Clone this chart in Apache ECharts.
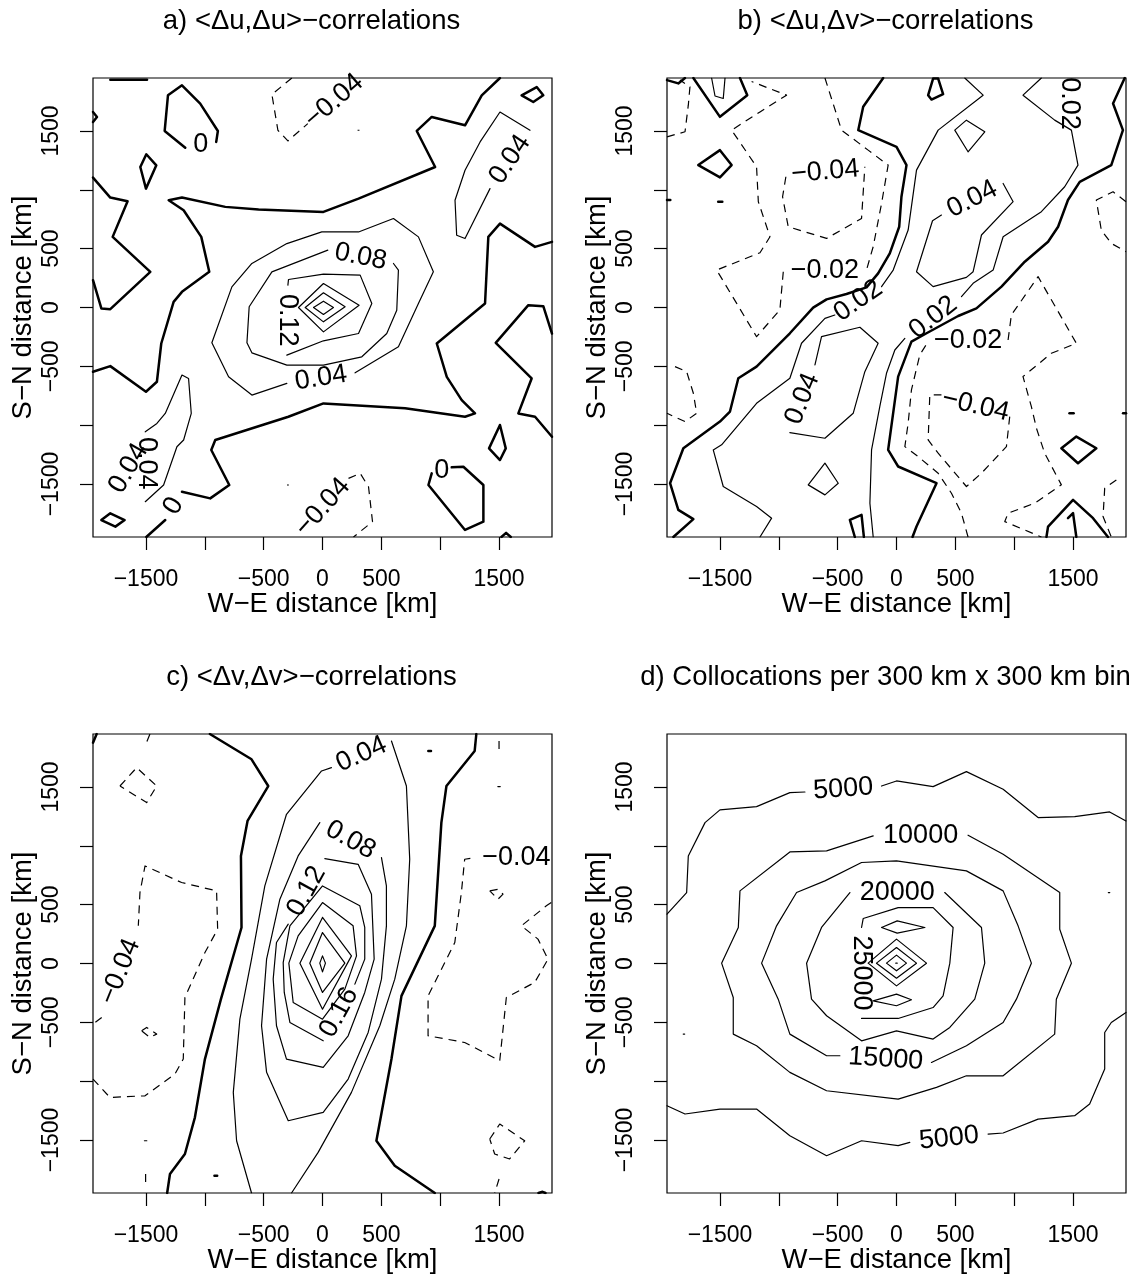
<!DOCTYPE html>
<html><head><meta charset="utf-8">
<script src="https://cdn.jsdelivr.net/npm/echarts@6/dist/echarts.min.js"></script>
<style>html,body{margin:0;padding:0;background:#fff}#c{width:1137px;height:1279px}</style>
</head><body><div id="c"></div>
<script>
const FONT = '"Liberation Sans", Arial, Helvetica, sans-serif';
const axisMin = -1950, axisMax = 1950;
const tickValues = [-1500, -1000, -500, 0, 500, 1000, 1500];
const tickLabelValues = [-1500, -500, 0, 500, 1500];
const panelTitles = ['a) <\u0394u,\u0394u>\u2212correlations', 'b) <\u0394u,\u0394v>\u2212correlations',
                     'c) <\u0394v,\u0394v>\u2212correlations', 'd) Collocations per 300 km x 300 km bin'];
const xTitle = 'W\u2212E distance [km]';
const yTitle = 'S\u2212N distance [km]';

// contours: [level, path of [W-E km, S-N km]]
const contoursA = [
 [0, [[-1166,1358],[-1341,1500],[-1313,1803],[-1194,1888],[-1039,1732],[-889,1500],[-903,1407]]],
 [0, [[-1548,1194],[-1497,1302],[-1412,1208],[-1500,1010],[-1548,1194]]],
 [0, [[-1803,1935],[-1491,1935]]],
 [0, [[-1950,1104],[-1803,934],[-1656,903],[-1783,600],[-1463,303],[-1803,-14],[-1879,-8],[-1950,232]]],
 [0, [[-1950,-546],[-1803,-498],[-1500,-716],[-1407,-631],[-1370,-306],[-1265,48],[-1194,133],[-962,303],[-1030,600],[-1180,826],[-1307,911],[-1194,934],[-826,855],[-543,832],[8,812],[306,925],[957,1194],[801,1500],[928,1619],[1211,1548],[1353,1803],[1508,1950]]],
 [0, [[-1497,-1950],[-1336,-1806]]],
 [0, [[-1194,-1565],[-954,-1622],[-792,-1508],[-945,-1211],[-911,-1126],[-290,-928],[8,-815],[702,-857],[1211,-928],[1296,-900],[1183,-787],[1056,-589],[971,-306],[1381,34],[1409,600],[1508,713],[1636,628],[1806,515],[1950,558]]],
 [0, [[1950,-221],[1876,11],[1749,20],[1472,-300],[1777,-603],[1664,-900],[1806,-928],[1950,-1098]]],
 [0, [[1692,1803],[1820,1873],[1876,1803],[1791,1746],[1692,1803]]],
 [0, [[1508,-999],[1557,-1197],[1508,-1296],[1415,-1197],[1508,-999]]],
 [0, [[1098,-1358],[1197,-1353],[1367,-1508],[1367,-1820],[1211,-1890],[900,-1508],[928,-1409]]],
 [0, [[-1879,-1806],[-1803,-1749],[-1681,-1806],[-1760,-1862],[-1879,-1806]]],
 [0, [[-1950,1661],[-1916,1619],[-1950,1576]]],
 [0, [[1520,-1950],[1560,-1915],[1600,-1950]]],
 [0.04, [[277,-555],[645,-334],[815,34],[942,303],[815,600],[603,756],[306,642],[-6,642],[-303,543],[-600,374],[-770,175],[-940,-300],[-798,-589],[-600,-744],[-303,-645]]],
 [0.08, [[45,487],[-430,303],[-623,6],[-642,-300],[-600,-385],[-303,-490],[8,-490],[334,-419],[546,-221],[631,-23],[645,317],[603,374]]],
 [0.12, [[-294,190],[-289,238],[8,283],[320,275],[419,34],[306,-221],[8,-283],[-303,-405]]],
 [0.16, [[-204,0],[8,204],[311,20],[8,-207],[-204,0]]],
 [0.20, [[-147,0],[8,125],[192,6],[8,-122],[-147,0]]],
 [0.24, [[-76,0],[8,54],[93,0],[8,-59],[-76,0]]],
 [0.04, [[1423,1010],[1211,586],[1140,614],[1126,911],[1211,1166],[1339,1407],[1508,1661],[1763,1506]]],
 [0.04, [[-1506,-1650],[-1350,-1508],[-1237,-1183],[-1180,-1126],[-1115,-900],[-1138,-603],[-1194,-574],[-1336,-900],[-1407,-985],[-1506,-1056]]],
 [-0.04, [[-260,1950],[-430,1811],[-379,1506],[-294,1415],[-125,1562]]],
 [-0.04, [[221,-1452],[320,-1409],[391,-1523],[425,-1820],[263,-1950]]],
 [-0.04, [[298,1506],[314,1506]]],
 [-0.04, [[-302,-1508],[-286,-1508]]]
];
const labelsA = [[-1035,1383,'0'],[-1265,-1686,'0'],[1013,-1384,'0'],[-13,-600,'0.04'],[324,431,'0.08'],
  [-299,-108,'0.12'],[1593,1258,'0.04'],[-1648,-1366,'0.04'],[-1493,-1323,'0.04'],[98,1754,'\u22120.04'],[2,-1697,'\u22120.04']];
const labelRotA = [0, 60, 0, 9, -11, -90, 56, 60, -90, 41, 48];

const contoursB = [
 [0, [[-1896,-1950],[-1726,-1798],[-1854,-1719],[-1924,-1493],[-1811,-1196],[-1500,-969],[-1415,-884],[-1344,-601],[-1189,-502],[-906,-219],[-708,-1],[-594,69],[-425,115],[-255,171],[-156,290],[-57,460],[23,686],[42,941],[85,1210],[0,1365],[-325,1507],[-283,1705],[-113,1950]]],
 [0, [[136,-1950],[170,-1861],[340,-1493],[14,-1351],[-71,-1210],[14,-587],[127,-290],[255,-219],[524,-72],[679,-7],[892,177],[1090,389],[1288,559],[1373,686],[1457,913],[1557,1068],[1825,1210],[1924,1507],[1840,1733],[1939,1950]]],
 [0, [[-1726,1950],[-1500,1620],[-1268,1804],[-1330,1950]]],
 [0, [[-1684,1210],[-1500,1337],[-1401,1210],[-1500,1105],[-1684,1210]]],
 [0, [[269,1804],[311,1945],[354,1945],[396,1813],[297,1767],[269,1804]]],
 [0, [[-1950,1932],[-1854,1904],[-1797,1950]]],
 [0, [[1401,-1196],[1528,-1097],[1698,-1196],[1542,-1323],[1401,-1196]]],
 [0, [[1274,-1950],[1288,-1861],[1500,-1635],[1670,-1790],[1797,-1950]]],
 [0, [[1457,-1790],[1500,-1747],[1528,-1950]]],
 [0, [[-354,-1950],[-396,-1804],[-297,-1762],[-277,-1950]]],
 [0, [[-1950,913],[-1922,913]]],
 [0, [[-1515,899],[-1480,899]]],
 [0, [[1470,-898],[1505,-898]]],
 [0, [[1925,-898],[1950,-898]]],
 [0.02, [[-1160,-1950],[-1061,-1790],[-1189,-1691],[-1472,-1521],[-1557,-1210],[-1486,-1167],[-1189,-814],[-906,-601],[-807,-304],[-608,-92],[-524,-64]]],
 [0.02, [[-127,177],[-28,318],[99,658],[170,1167],[354,1507],[736,1804],[580,1950]]],
 [0.02, [[1231,1950],[1075,1804],[1344,1592],[1486,1507],[1542,1210],[1429,1026],[1231,814],[906,601],[821,318],[651,205],[552,92]]],
 [0.02, [[71,-262],[-14,-361],[-85,-559],[-142,-842],[-212,-1210],[-226,-1663],[-198,-1950]]],
 [0.04, [[-906,-1063],[-608,-1111],[-368,-899],[-269,-545],[-156,-304],[-311,-168],[-637,-248],[-693,-488]]],
 [0.04, [[906,1054],[991,899],[722,616],[651,304],[594,256],[311,177],[170,304],[306,737],[382,785]]],
 [0.02, [[495,1507],[594,1592],[750,1493],[608,1323],[495,1507]]],
 [0.02, [[-750,-1507],[-608,-1323],[-495,-1493],[-608,-1592],[-750,-1507]]],
 [0.02, [[-1571,1950],[-1542,1797],[-1472,1776],[-1457,1950]]],
 [-0.02, [[-608,1950],[-467,1507],[-241,1337],[-71,1210],[-127,884],[-198,517],[-255,318]]],
 [-0.02, [[-962,304],[-991,-21],[-1189,-248],[-1358,35],[-1528,318],[-1160,465],[-1075,601],[-1174,899],[-1189,1196],[-1401,1507],[-1160,1662],[-934,1804],[-1231,1920]]],
 [-0.04, [[-940,1111],[-968,941],[-920,686],[-594,587],[-297,757],[-269,1196]]],
 [-0.02, [[-1950,1450],[-1797,1493],[-1769,1719],[-1755,1875],[-1840,1932]]],
 [-0.02, [[-1882,-502],[-1783,-545],[-1726,-729],[-1698,-899],[-1797,-969],[-1950,-899]]],
 [-0.02, [[608,-1950],[552,-1748],[467,-1578],[354,-1408],[184,-1267],[71,-1182],[99,-983],[127,-700],[198,-403],[269,-290]]],
 [-0.02, [[948,-276],[976,-64],[1203,262],[1528,-304],[1316,-389],[1075,-587],[1146,-842],[1189,-1026],[1259,-1238],[1401,-1507],[1174,-1663],[948,-1748],[920,-1819],[1231,-1950]]],
 [-0.04, [[962,-927],[934,-1182],[722,-1408],[594,-1521],[354,-1238],[269,-1125],[283,-743],[382,-743]]],
 [-0.02, [[1950,899],[1840,983],[1698,913],[1740,658],[1825,545],[1950,474]]],
 [-0.02, [[1868,-1465],[1769,-1535],[1755,-1776],[1825,-1950]]]
];
const labelsB = [[-609,311,'\u22120.02'],[-605,1154,'\u22120.04'],[-326,57,'0.02'],[312,-85,'0.02'],[-800,-776,'0.04'],
  [644,920,'0.04'],[609,-283,'\u22120.02'],[672,-835,'\u22120.04'],[1466,1733,'0.02']];
const labelRotB = [0, 5, 35, 38, 68, 27, 0, -13, -90];

const contoursC = [
 [0, [[-957,1950],[-603,1735],[-461,1508],[-637,1211],[-693,914],[-688,306],[-863,-303],[-999,-812],[-1084,-1307],[-1169,-1619],[-1296,-1789],[-1320,-1950]]],
 [0, [[1307,1950],[1293,1806],[1053,1508],[1010,1197],[954,320],[671,-275],[586,-812],[458,-1506],[614,-1718],[954,-1950]]],
 [0, [[-1950,1876],[-1919,1950]]],
 [0, [[899,1806],[922,1806]]],
 [0, [[-918,-1803],[-895,-1803]]],
 [0, [[1835,-1950],[1870,-1940],[1895,-1950]]],
 [0.04, [[-603,-1950],[-730,-1506],[-758,-1095],[-702,-473],[-603,37],[-490,659],[-306,1268],[-8,1636],[76,1664]]],
 [0.04, [[586,1890],[713,1508],[741,886],[713,320],[614,-133],[487,-529],[246,-1095],[-37,-1605],[-263,-1950]]],
 [0.08, [[501,900],[543,659],[543,320],[501,-133],[388,-586],[218,-982],[6,-1265],[-291,-1336],[-475,-925],[-518,-529],[-475,37],[-362,546],[-207,914],[-23,1197]]],
 [0.12, [[-291,334],[-391,178],[-419,-133],[-391,-529],[-306,-812],[6,-883],[218,-614],[359,-246],[439,37],[416,589],[303,843],[20,891]]],
 [0.16, [[275,-175],[359,37],[359,306],[317,490],[0,659],[-277,320],[-334,8],[-325,-246],[-277,-501],[6,-657]]],
 [0.20, [[0,518],[260,320],[289,65],[190,-218],[0,-473],[-249,-331],[-286,3],[-207,235],[0,518]]],
 [0.24, [[0,391],[246,65],[0,-388],[-192,3],[0,391]]],
 [0.28, [[0,263],[190,3],[0,-246],[-108,3],[0,263]]],
 [0.32, [[-23,3],[0,65],[25,3],[0,-71],[-23,3]]],
 [0.04, [[1490,1503],[1510,1503]]],
 [0.04, [[-1513,-1506],[-1493,-1506]]],
 [-0.04, [[-1950,-982],[-1806,-1138],[-1508,-1124],[-1254,-940],[-1183,-812],[-1169,-289],[-999,93],[-891,291],[-900,617],[-1197,688],[-1508,829],[-1551,603],[-1565,320]]],
 [-0.04, [[-1876,-458],[-1950,-515]]],
 [-0.04, [[-1721,1508],[-1579,1664],[-1409,1508],[-1494,1367],[-1721,1508]]],
 [-0.04, [[-1466,1950],[-1508,1848]]],
 [-0.04, [[-1537,-572],[-1494,-543],[-1409,-600],[-1466,-628],[-1537,-572]]],
 [-0.04, [[1944,518],[1902,490],[1690,320],[1831,207],[1916,37],[1803,-161],[1562,-289],[1506,-826],[1208,-671],[897,-614],[897,-275],[1124,178],[1180,603],[1208,886],[1293,900]]],
 [-0.04, [[1421,617],[1491,631],[1534,589],[1491,546],[1421,617]]],
 [-0.04, [[1421,-1491],[1506,-1364],[1718,-1506],[1590,-1661],[1463,-1619],[1421,-1491]]],
 [-0.04, [[1500,1890],[1500,1806]]],
 [-0.04, [[1500,-1831],[1463,-1950]]],
 [-0.04, [[-1503,-1789],[-1503,-1859]]]
];
const labelsC = [[331,1777,'0.04'],[239,1049,'0.08'],[-136,613,'0.12'],[141,-416,'0.16'],[-1720,-69,'\u22120.04'],[1647,900,'\u22120.04']];
const labelRotC = [24, -29, 61, 61, 68, 0];

const contoursD = [
 [5000, [[-1950,419],[-1783,603],[-1769,914],[-1627,1197],[-1500,1305],[-1189,1333],[-906,1452],[-778,1457]]],
 [5000, [[-127,1508],[0,1551],[311,1503],[594,1630],[906,1480],[1203,1240],[1514,1248],[1811,1288],[1950,1211]]],
 [5000, [[-1950,-1208],[-1797,-1279],[-1500,-1237],[-1189,-1237],[-906,-1463],[-594,-1633],[-297,-1506],[14,-1548],[113,-1520]]],
 [5000, [[778,-1449],[906,-1440],[1203,-1322],[1514,-1293],[1641,-1194],[1769,-897],[1769,-586],[1825,-501],[1950,-416]]],
 [10000, [[608,1090],[906,928],[1387,603],[1387,291],[1486,3],[1358,-303],[1344,-600],[906,-954],[594,-954],[340,-1053],[14,-1152],[-594,-1081],[-906,-925],[-1189,-699],[-1387,-600],[-1387,-289],[-1486,3],[-1344,306],[-1330,617],[-906,948],[-594,957],[-198,1084]]],
 [15000, [[297,-841],[594,-699],[906,-501],[1019,-303],[1146,3],[1033,320],[906,617],[594,787],[0,872],[-297,858],[-608,702],[-849,603],[-1019,320],[-1146,3],[-1005,-303],[-906,-600],[-594,-784],[-481,-784]]],
 [20000, [[-396,603],[-637,306],[-764,3],[-722,-303],[-594,-444],[-297,-657],[0,-572],[311,-642],[453,-543],[665,-303],[750,3],[722,306],[410,603]]],
 [25000, [[-297,-467],[14,-467],[311,-374],[396,-275],[453,3],[481,306],[311,475],[14,475],[-283,382],[-297,306]]],
 [30000, [[-127,306],[6,362],[241,306],[6,258],[-127,306]]],
 [30000, [[-198,-317],[0,-260],[127,-308],[0,-359],[-198,-317]]],
 [30000, [[-241,3],[0,207],[255,3],[0,-190],[-241,3]]],
 [35000, [[-170,3],[0,136],[170,3],[0,-125],[-170,3]]],
 [40000, [[-85,3],[0,71],[85,3],[0,-62],[-85,3]]],
 [45000, [[-6,3],[6,3]]],
 [5000, [[1800,603],[1812,603]]],
 [5000, [[-1812,-600],[-1800,-600]]]
];
const labelsD = [[-453,1483,'5000'],[446,-1485,'5000'],[205,1087,'10000'],[-92,-812,'15000'],[7,603,'20000'],[-297,-80,'25000']];
const labelRotD = [4, 6, 0, -4, 0, -90];

const panels = [
  {contours: contoursA, labels: labelsA, rots: labelRotA},
  {contours: contoursB, labels: labelsB, rots: labelRotB},
  {contours: contoursC, labels: labelsC, rots: labelRotC},
  {contours: contoursD, labels: labelsD, rots: labelRotD}
];
const gridPos = [[93, 78], [667, 78], [93, 734], [667, 734]];
const PW = 459, PH = 459;

const fmt = v => (v < 0 ? '\u2212' : '') + Math.abs(v);

const grids = [], xAxes = [], yAxes = [], series = [], graphics = [];
panels.forEach((p, i) => {
  const [gl, gt] = gridPos[i];
  grids.push({left: gl, top: gt, width: PW, height: PH, show: true, borderColor: '#000', borderWidth: 1.2, backgroundColor: 'transparent', containLabel: false});
  const axisCommon = {
    gridIndex: i, type: 'value', min: axisMin, max: axisMax,
    axisLine: {show: false, onZero: false}, splitLine: {show: false},
    axisTick: {show: true, inside: false, length: 13, customValues: tickValues, lineStyle: {color: '#000', width: 1.2}},
    axisLabel: {customValues: tickLabelValues, formatter: fmt, fontSize: 23, lineHeight: 23, color: '#000', fontFamily: FONT, margin: 31}
  };
  xAxes.push(Object.assign({}, axisCommon, {position: 'bottom'}));
  yAxes.push(Object.assign({}, axisCommon, {position: 'left', axisLabel: Object.assign({}, axisCommon.axisLabel, {rotate: 90, margin: 30})}));
  p.contours.forEach(([lev, path]) => {
    series.push({
      type: 'line', xAxisIndex: i, yAxisIndex: i, data: path, symbol: 'none', showSymbol: false,
      silent: true, animation: false, z: 3, clip: true,
      lineStyle: {color: '#000', opacity: 1, width: lev === 0 ? 2.5 : 1.2, type: lev < 0 ? [8, 6] : 'solid', cap: lev < 0 ? 'butt' : 'round', join: 'round'}
    });
  });
  series.push({
    type: 'scatter', xAxisIndex: i, yAxisIndex: i, symbolSize: 1, silent: true, animation: false, z: 5,
    itemStyle: {color: 'rgba(255,255,255,0)', opacity: 1},
    label: {show: true, position: 'inside', formatter: '{b}', fontSize: 27, fontFamily: FONT, color: '#000', opacity: 1, textBorderWidth: 0},
    data: p.labels.map((l, k) => ({value: [l[0], l[1]], name: l[2], label: {rotate: p.rots[k]}}))
  });
  const cx = gl + PW / 2, cy = gt + PH / 2;
  const textStyle = (t) => ({text: t, font: '27.5px ' + FONT, fill: '#000', align: 'center', verticalAlign: 'middle', textAlign: 'center', textVerticalAlign: 'middle'});
  graphics.push({type: 'text', x: cx - 11, y: gt - 57, style: textStyle(panelTitles[i])});
  graphics.push({type: 'text', x: cx, y: gt + PH + 67.5, style: textStyle(xTitle)});
  graphics.push({type: 'text', x: gl - 70, y: cy, rotation: Math.PI / 2, style: textStyle(yTitle)});
});

const chart = echarts.init(document.getElementById('c'), null, {renderer: 'canvas'});
chart.setOption({
  animation: false,
  backgroundColor: '#fff',
  grid: grids, xAxis: xAxes, yAxis: yAxes, series: series, graphic: graphics
});
</script></body></html>
